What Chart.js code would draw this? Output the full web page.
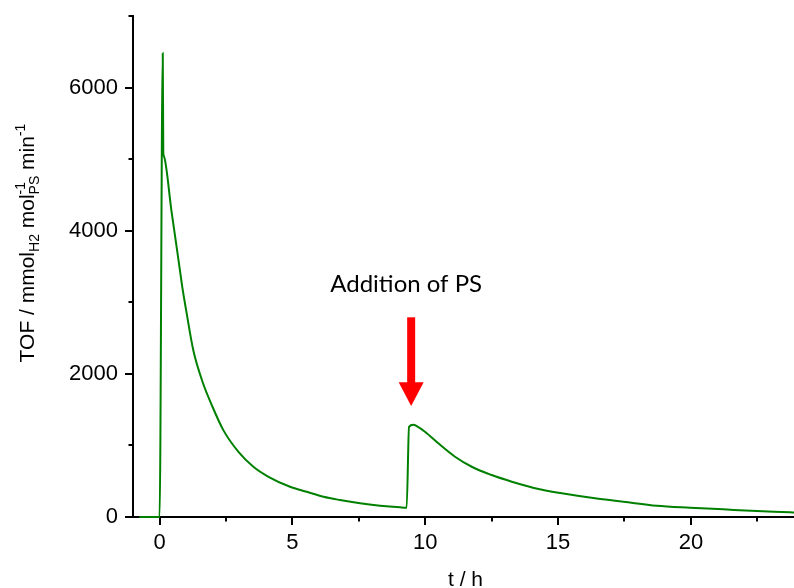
<!DOCTYPE html>
<html>
<head>
<meta charset="utf-8">
<script src="https://cdn.jsdelivr.net/npm/chart.js@4.4.0/dist/chart.umd.min.js"></script>
<style>
  html, body { margin: 0; padding: 0; background: #fff; }
  #wrap { width: 794px; height: 588px; }
</style>
</head>
<body>
<div id="wrap"><canvas id="c" width="794" height="588"></canvas></div>
<script>
// ---- data ----
const timeH = [-0.76, 0, 0.12, 0.14, 0.16, 0.45, 0.77, 0.86, 1.0, 1.27, 1.63, 1.96, 2.40, 2.97, 3.53, 4.10, 4.91, 5.54, 6.17, 6.79, 7.55, 8.30, 9.05, 9.30,
               9.39, 9.55, 9.68, 9.99, 10.49, 11.12, 11.75, 12.50, 13.26, 14.26, 15.14, 16.39, 17.46, 18.71, 19.97, 21.22, 22.48, 23.73, 23.9];
const tof   = [0, 0, 6480, 5098, 5045, 4270, 3440, 3200, 2890, 2330, 1875, 1568, 1214, 910, 702, 562, 423, 353, 283, 237, 191, 158, 135, 130,
               1260, 1288, 1270, 1191, 1029, 842, 702, 586, 493, 391, 331, 261, 214, 158, 130, 107, 84, 66, 63];
const xMajorTicks = [0, 5, 10, 15, 20];
const xMinorTicks = [2.5, 7.5, 12.5, 17.5, 22.5];
const yMajorTicks = [0, 2000, 4000, 6000];
const yMinorTicks = [1000, 3000, 5000, 7000];
const annotationText = 'Addition of PS';
const annotationAt = 9.47;          // t / h where PS was added
const arrowTop = 2790, arrowHeadBase = 1884, arrowTip = 1550;
const xTitle = 't / h';

const points = timeH.map((t, i) => ({ x: t, y: tof[i] }));

const extras = {
  id: 'extras',
  afterDraw(chart) {
    const ctx = chart.ctx;
    const xs = chart.scales.x, ys = chart.scales.y;
    const ca = chart.chartArea;
    ctx.save();
    // minor ticks
    ctx.strokeStyle = '#000';
    ctx.lineWidth = 2;
    ctx.beginPath();
    xMinorTicks.forEach(v => {
      const px = Math.round(xs.getPixelForValue(v));
      ctx.moveTo(px, ca.bottom); ctx.lineTo(px, ca.bottom + 4.5);
    });
    yMinorTicks.forEach(v => {
      const py = Math.round(ys.getPixelForValue(v));
      ctx.moveTo(ca.left, py); ctx.lineTo(ca.left - 4.5, py);
    });
    ctx.stroke();

    // y-axis title with sub/superscripts
    const big = '21px "Liberation Sans", Arial, sans-serif';
    const small = '14px "Liberation Sans", Arial, sans-serif';
    const parts = [
      { t: 'TOF / mmol', f: big, dy: 0 },
      { t: 'H2', f: small, dy: 5 },
      { t: ' mol', f: big, dy: 0 },
      { stack: [{ t: '-1', f: small, dy: -9 }, { t: 'PS', f: small, dy: 5 }] },
      { t: ' min', f: big, dy: 0 },
      { t: '-1', f: small, dy: -9 }
    ];
    const widthOf = p => {
      if (p.stack) return Math.max(...p.stack.map(widthOf));
      ctx.font = p.f; return ctx.measureText(p.t).width;
    };
    const total = parts.reduce((s, p) => s + widthOf(p), 0);
    ctx.translate(34, 243);
    ctx.rotate(-Math.PI / 2);
    ctx.fillStyle = '#000';
    ctx.textBaseline = 'alphabetic';
    ctx.textAlign = 'left';
    let cx = -total / 2;
    parts.forEach(p => {
      const w = widthOf(p);
      const items = p.stack ? p.stack : [p];
      items.forEach(it => { ctx.font = it.f; ctx.fillText(it.t, cx, it.dy); });
      cx += w;
    });
    ctx.restore();

    ctx.save();
    // x-axis title
    ctx.fillStyle = '#000';
    ctx.font = big;
    ctx.textAlign = 'center';
    ctx.textBaseline = 'alphabetic';
    ctx.fillText(xTitle, (ca.left + ca.right) / 2 + 2, 586);

    // annotation arrow
    const ax = xs.getPixelForValue(annotationAt);
    const yTop = ys.getPixelForValue(arrowTop);
    const yBase = ys.getPixelForValue(arrowHeadBase);
    const yTip = ys.getPixelForValue(arrowTip);
    ctx.fillStyle = '#ff0000';
    ctx.fillRect(ax - 4, yTop, 8, yBase - yTop + 1);
    ctx.beginPath();
    ctx.moveTo(ax - 12.5, yBase);
    ctx.lineTo(ax + 12.5, yBase);
    ctx.lineTo(ax, yTip);
    ctx.closePath();
    ctx.fill();

    // annotation text
    ctx.fillStyle = '#000';
    ctx.font = '24px Lato, "Open Sans", sans-serif';
    ctx.textAlign = 'center';
    ctx.fillText(annotationText, ax - 5, yTop - 25);
    ctx.restore();
  }
};

const tickFont = { family: '"Liberation Sans", Arial, sans-serif', size: 22 };
const plain = v => String(v);

new Chart(document.getElementById('c'), {
  type: 'line',
  data: {
    datasets: [{
      data: points,
      borderColor: '#008000',
      borderWidth: 2,
      pointRadius: 0,
      fill: false,
      cubicInterpolationMode: 'monotone',
      clip: false
    }]
  },
  options: {
    responsive: false,
    animation: false,
    devicePixelRatio: 1,
    layout: { padding: { top: 16, right: 0, left: 0, bottom: 0 } },
    plugins: { legend: { display: false }, tooltip: { enabled: false } },
    scales: {
      x: {
        type: 'linear',
        min: -1, max: 23.88,
        afterBuildTicks: s => { s.ticks = xMajorTicks.map(v => ({ value: v })); },
        afterFit: s => { s.height = 71; s.paddingLeft = 0; s.paddingRight = 0; },
        border: { display: true, color: '#000', width: 2 },
        grid: { drawOnChartArea: false, color: '#000', tickColor: '#000', tickLength: 8, lineWidth: 2, tickWidth: 2 },
        ticks: { color: '#000', font: tickFont, padding: 5, maxRotation: 0, autoSkip: false, callback: plain }
      },
      y: {
        type: 'linear',
        min: 0, max: 7000,
        afterBuildTicks: s => { s.ticks = yMajorTicks.map(v => ({ value: v })); },
        afterFit: s => { s.width = 133; s.paddingTop = 0; s.paddingBottom = 0; },
        border: { display: true, color: '#000', width: 2 },
        grid: { drawOnChartArea: false, color: '#000', tickColor: '#000', tickLength: 8, lineWidth: 2, tickWidth: 2 },
        ticks: { color: '#000', font: tickFont, padding: 7, autoSkip: false, callback: plain }
      }
    }
  },
  plugins: [extras]
});
</script>
</body>
</html>
